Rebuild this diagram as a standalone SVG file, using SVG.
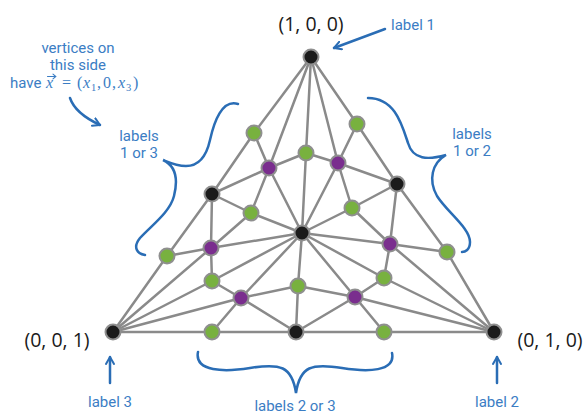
<svg xmlns="http://www.w3.org/2000/svg" width="584" height="415" viewBox="0 0 584 415">
<style>
.e{stroke:#8a8a8a;stroke-width:2.5;stroke-linecap:round}
.n{stroke:#8f8f8f;stroke-width:2}
.k{fill:#1b1b1b}
.g{fill:#78b13f}
.p{fill:#7a2e8e}
.coord{font-family:"Open Sans","Noto Sans",sans-serif;font-size:19.5px;fill:#1a1a1a;text-anchor:middle}
.lbl{font-family:Roboto,"Liberation Sans",sans-serif;font-size:15px;fill:#3b7dc4;text-anchor:middle}
.br{fill:none;stroke:#2a6db5;stroke-width:2.5;stroke-linecap:round}
.m{font-family:"Liberation Serif","DejaVu Serif",serif;font-size:16px;fill:#3b7dc4}
</style>
<defs>
<marker id="ah" viewBox="0 0 10 10" refX="8" refY="5" markerWidth="10" markerHeight="10" markerUnits="userSpaceOnUse" orient="auto">
<path d="M1,1 L8,5 L1,9" fill="none" stroke="#2a6db5" stroke-width="2" stroke-linecap="round" stroke-linejoin="round"/>
</marker>
</defs>
<rect width="584" height="415" fill="#ffffff"/>
<g id="connectors">
<line class="e" x1="311" y1="57" x2="254" y2="133"/>
<line class="e" x1="254" y1="133" x2="212" y2="194"/>
<line class="e" x1="212" y1="194" x2="167" y2="256"/>
<line class="e" x1="167" y1="256" x2="113" y2="332"/>
<line class="e" x1="311" y1="57" x2="357" y2="124"/>
<line class="e" x1="357" y1="124" x2="397" y2="184"/>
<line class="e" x1="397" y1="184" x2="447" y2="252"/>
<line class="e" x1="447" y1="252" x2="494" y2="332"/>
<line class="e" x1="113" y1="332" x2="494" y2="332"/>
<line class="e" x1="311" y1="57" x2="269" y2="168"/>
<line class="e" x1="311" y1="57" x2="306" y2="153"/>
<line class="e" x1="311" y1="57" x2="338" y2="163"/>
<line class="e" x1="254" y1="133" x2="269" y2="168"/>
<line class="e" x1="357" y1="124" x2="338" y2="163"/>
<line class="e" x1="212" y1="194" x2="269" y2="168"/>
<line class="e" x1="212" y1="194" x2="251" y2="213"/>
<line class="e" x1="212" y1="194" x2="211" y2="248"/>
<line class="e" x1="269" y1="168" x2="306" y2="153"/>
<line class="e" x1="269" y1="168" x2="251" y2="213"/>
<line class="e" x1="269" y1="168" x2="302" y2="233"/>
<line class="e" x1="306" y1="153" x2="338" y2="163"/>
<line class="e" x1="306" y1="153" x2="302" y2="233"/>
<line class="e" x1="338" y1="163" x2="302" y2="233"/>
<line class="e" x1="338" y1="163" x2="352" y2="208"/>
<line class="e" x1="338" y1="163" x2="397" y2="184"/>
<line class="e" x1="397" y1="184" x2="352" y2="208"/>
<line class="e" x1="397" y1="184" x2="390" y2="244"/>
<line class="e" x1="352" y1="208" x2="302" y2="233"/>
<line class="e" x1="352" y1="208" x2="390" y2="244"/>
<line class="e" x1="251" y1="213" x2="302" y2="233"/>
<line class="e" x1="251" y1="213" x2="211" y2="248"/>
<line class="e" x1="167" y1="256" x2="211" y2="248"/>
<line class="e" x1="211" y1="248" x2="302" y2="233"/>
<line class="e" x1="211" y1="248" x2="212" y2="281"/>
<line class="e" x1="211" y1="248" x2="113" y2="332"/>
<line class="e" x1="212" y1="281" x2="302" y2="233"/>
<line class="e" x1="212" y1="281" x2="241" y2="298"/>
<line class="e" x1="212" y1="281" x2="113" y2="332"/>
<line class="e" x1="241" y1="298" x2="302" y2="233"/>
<line class="e" x1="241" y1="298" x2="298" y2="286"/>
<line class="e" x1="241" y1="298" x2="113" y2="332"/>
<line class="e" x1="241" y1="298" x2="212" y2="332"/>
<line class="e" x1="241" y1="298" x2="296" y2="332"/>
<line class="e" x1="298" y1="286" x2="302" y2="233"/>
<line class="e" x1="298" y1="286" x2="296" y2="332"/>
<line class="e" x1="298" y1="286" x2="355" y2="297"/>
<line class="e" x1="302" y1="233" x2="355" y2="297"/>
<line class="e" x1="302" y1="233" x2="384" y2="278"/>
<line class="e" x1="302" y1="233" x2="390" y2="244"/>
<line class="e" x1="390" y1="244" x2="447" y2="252"/>
<line class="e" x1="390" y1="244" x2="384" y2="278"/>
<line class="e" x1="390" y1="244" x2="494" y2="332"/>
<line class="e" x1="384" y1="278" x2="355" y2="297"/>
<line class="e" x1="384" y1="278" x2="494" y2="332"/>
<line class="e" x1="355" y1="297" x2="384" y2="332"/>
<line class="e" x1="355" y1="297" x2="296" y2="332"/>
<line class="e" x1="355" y1="297" x2="494" y2="332"/>
</g>
<g id="node-A"><circle class="n k" cx="311" cy="57" r="7.5"/></g>
<g id="node-B"><circle class="n k" cx="113" cy="332" r="7.5"/></g>
<g id="node-C"><circle class="n k" cx="494" cy="332" r="7.5"/></g>
<g id="node-L1"><circle class="n g" cx="254" cy="133" r="7.5"/></g>
<g id="node-L2"><circle class="n k" cx="212" cy="194" r="7.5"/></g>
<g id="node-L3"><circle class="n g" cx="167" cy="256" r="7.5"/></g>
<g id="node-R1"><circle class="n g" cx="357" cy="124" r="7.5"/></g>
<g id="node-R2"><circle class="n k" cx="397" cy="184" r="7.5"/></g>
<g id="node-R3"><circle class="n g" cx="447" cy="252" r="7.5"/></g>
<g id="node-D1"><circle class="n g" cx="212" cy="332" r="7.5"/></g>
<g id="node-D2"><circle class="n k" cx="296" cy="332" r="7.5"/></g>
<g id="node-D3"><circle class="n g" cx="384" cy="332" r="7.5"/></g>
<g id="node-P1"><circle class="n p" cx="269" cy="168" r="7.5"/></g>
<g id="node-G1"><circle class="n g" cx="306" cy="153" r="7.5"/></g>
<g id="node-P2"><circle class="n p" cx="338" cy="163" r="7.5"/></g>
<g id="node-G2"><circle class="n g" cx="251" cy="213" r="7.5"/></g>
<g id="node-G3"><circle class="n g" cx="352" cy="208" r="7.5"/></g>
<g id="node-O"><circle class="n k" cx="302" cy="233" r="7.5"/></g>
<g id="node-P3"><circle class="n p" cx="211" cy="248" r="7.5"/></g>
<g id="node-P4"><circle class="n p" cx="390" cy="244" r="7.5"/></g>
<g id="node-G4"><circle class="n g" cx="212" cy="281" r="7.5"/></g>
<g id="node-G5"><circle class="n g" cx="298" cy="286" r="7.5"/></g>
<g id="node-G6"><circle class="n g" cx="384" cy="278" r="7.5"/></g>
<g id="node-P5"><circle class="n p" cx="241" cy="298" r="7.5"/></g>
<g id="node-P6"><circle class="n p" cx="355" cy="297" r="7.5"/></g>
<g id="coords">
<text class="coord" x="311" y="31">(1, 0, 0)</text>
<text class="coord" x="57" y="347">(0, 0, 1)</text>
<text class="coord" x="550" y="347">(0, 1, 0)</text>
</g>
<g id="annotations">
<path class="br" d="M238,104 C222,99 214,122 210,140 C206,158 198,166 186,166 C176,166 168,162 163,160 C176,166 178,180 174,196 C170,212 152,225 140,238 C132,248 138,254 145,255"/>
<path class="br" d="M368,98 C395,98 402,125 408,143 C413,160 428,160 446,155 C432,163 428,180 437,196 C447,212 470,228 470,242 C470,250 465,252 462,252"/>
<path class="br" d="M198,352 C194,372 225,372 250,368 C280,363 292,366 296,393 C300,366 312,363 342,368 C367,372 396,372 392,353"/>
<path class="br" d="M70,98 C74,110 85,118 100,125" marker-end="url(#ah)"/>
<line class="br" x1="385" y1="29" x2="334" y2="48" marker-end="url(#ah)"/>
<line class="br" x1="110" y1="383" x2="110" y2="357" marker-end="url(#ah)"/>
<line class="br" x1="497" y1="383" x2="497" y2="357" marker-end="url(#ah)"/>
<text class="lbl" x="78" y="53">vertices on</text>
<text class="lbl" x="78" y="69.5">this side</text>
<text class="lbl" x="10" y="88" style="text-anchor:start">have</text>
<path d="M47.5,76.5 L55.5,76.5 M53,74.2 L55.8,76.5 L53,78.8" fill="none" stroke="#3b7dc4" stroke-width="1.1" stroke-linecap="round"/>
<text class="m" y="88"><tspan x="46" font-style="italic">x</tspan><tspan x="62">=</tspan><tspan x="77">(</tspan><tspan x="83" font-style="italic">x</tspan><tspan x="91" y="91" font-size="10.5">1</tspan><tspan x="97" y="88">,</tspan><tspan x="103">0</tspan><tspan x="112">,</tspan><tspan x="118" font-style="italic">x</tspan><tspan x="126" y="91" font-size="10.5">3</tspan><tspan x="133" y="88">)</tspan></text>
<text class="lbl" x="139" y="141">labels</text>
<text class="lbl" x="139" y="158">1 or 3</text>
<text class="lbl" x="472" y="139">labels</text>
<text class="lbl" x="472" y="156">1 or 2</text>
<text class="lbl" x="413" y="30">label 1</text>
<text class="lbl" x="110" y="407">label 3</text>
<text class="lbl" x="497" y="407">label 2</text>
<text class="lbl" x="295" y="411">labels 2 or 3</text>
</g>
</svg>
